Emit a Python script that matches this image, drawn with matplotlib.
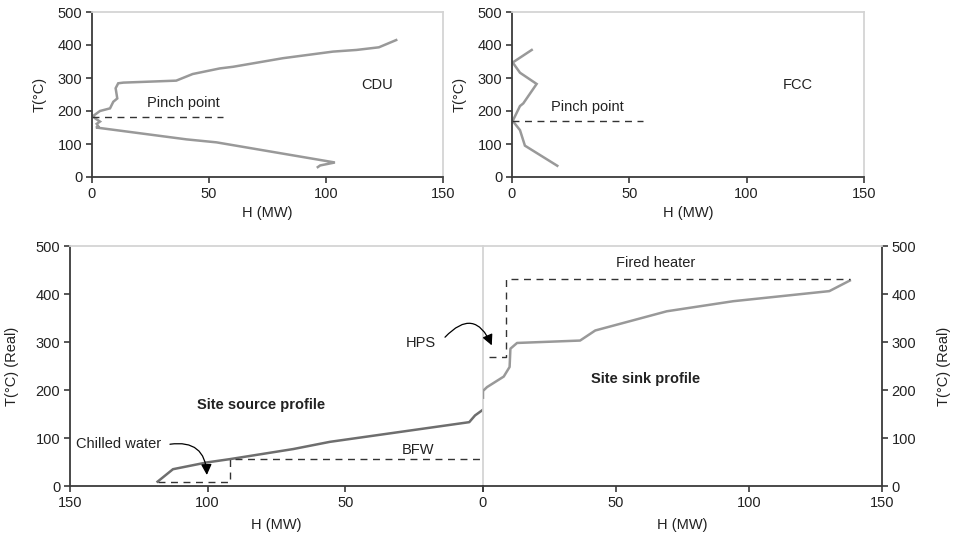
import matplotlib
matplotlib.use("Agg")
import matplotlib.pyplot as plt

plt.rcParams["font.family"] = ["Liberation Sans", "DejaVu Sans"]
plt.rcParams["font.size"] = 10.5

# Refinery composite curves, H in MW, T in deg C
CDU_H = [130, 122.6, 113, 103, 81.6, 60.3, 54.6, 43, 36, 13.4, 11.2, 10.1, 10.8,
         9.1, 7.7, 3.4, 0.5, 1.3, 3.4, 2.0, 2.7, 1.7, 40.4, 53.2, 103.8, 97.5, 96.5]
CDU_T = [415, 393, 385, 380, 360, 334, 329, 312, 292, 286, 284, 269, 238,
         228, 208, 200, 185, 178, 168, 161, 153, 150, 114, 105, 44, 35, 30]
FCC_H = [8.4, 0.3, 3.4, 10.5, 4.8, 3.4, 0.3, 3.4, 5.5, 19.3]
FCC_T = [385, 347, 316, 282, 223, 215, 170, 142, 95, 34]

CDU_PINCH = 183
FCC_PINCH = 170

# Total site profiles
SRC_H = [118.2, 112.6, 100.4, 91.9, 68.9, 55.6, 5, 2.9, 0]
SRC_T = [9, 35, 49, 56, 77, 92, 133, 147, 159]
SNK_H = [0, 0, 1.5, 7.8, 10, 10.3, 12.8, 36.5, 42.2, 69.1, 94.1, 130.2, 137.9]
SNK_T = [184, 198, 206, 228, 248, 286, 298, 303, 324, 364, 385, 406, 428]

# Utility levels (dashed)
CW_H = [118, 91.9, 91.9, 0]
CW_T = [9, 9, 56, 56]
HPS_H = [2.1, 8.8, 8.8, 137.9]
HPS_T = [269, 269, 432, 432]

LINE = "#999999"
DARK = "#6e6e6e"
SPINE = "#3a3a3a"
LIGHT = "#d4d4d4"
TXT = "#222222"

fig = plt.figure(figsize=(9.54, 5.42), dpi=100)
W, H = 954, 542


def add_axes(x0, x1, ytop, ybot):
    return fig.add_axes([x0 / W, 1 - ybot / H, (x1 - x0) / W, (ybot - ytop) / H])


def style(ax, right=False):
    for s in ax.spines.values():
        s.set_linewidth(1.3)
    ax.spines["top"].set_color(LIGHT)
    ax.spines["bottom"].set_color(SPINE)
    if right:
        ax.spines["left"].set_visible(False)
        ax.spines["right"].set_color(SPINE)
        ax.yaxis.tick_right()
        ax.yaxis.set_label_position("right")
    else:
        ax.spines["right"].set_color(LIGHT)
        ax.spines["left"].set_color(SPINE)
    ax.tick_params(direction="out", length=4, width=1.2, color=SPINE,
                   labelcolor=TXT, labelsize=10.5, pad=3)
    ax.set_ylim(0, 500)
    ax.set_yticks(range(0, 501, 100))
    ax.set_xticks([0, 50, 100, 150])


# ---- top panels: individual plants
axA = add_axes(92, 443, 12, 177)
axB = add_axes(512, 864, 12, 177)
for ax, h, t, pinch, name, px in [(axA, CDU_H, CDU_T, CDU_PINCH, "CDU", 39),
                                  (axB, FCC_H, FCC_T, FCC_PINCH, "FCC", 32)]:
    style(ax)
    ax.set_xlim(0, 150)
    ax.plot(h, t, color=LINE, lw=1.8, solid_joinstyle="miter")
    ax.plot([0, 56], [pinch, pinch], color="#333333", lw=1.0, ls=(0, (5, 4)))
    ax.text(px, pinch + 42, "Pinch point", ha="center", va="center", color=TXT)
    ax.text(121.7, 279, name, ha="center", va="center", color=TXT)
    ax.set_xlabel("H (MW)", color=TXT, labelpad=4)
    ax.set_ylabel("T(°C)", color=TXT)
    ax.yaxis.set_label_coords(-0.128, 0.5)

# ---- bottom: site source / sink profiles
axL = add_axes(70, 483, 246, 486)
axR = add_axes(483, 882, 246, 486)
style(axL)
style(axR, right=True)
axR.patch.set_alpha(0)
axL.set_xlim(150, 0)
axR.set_xlim(0, 150)
axR.set_xticklabels(["", "50", "100", "150"])

axL.plot(SRC_H, SRC_T, color=DARK, lw=1.8)
axL.plot(CW_H, CW_T, color="#333333", lw=1.0, ls=(0, (5, 4)))
axR.plot(SNK_H, SNK_T, color=LINE, lw=1.8)
axR.plot(HPS_H, HPS_T, color="#333333", lw=1.0, ls=(0, (5, 4)))

axL.text(80.6, 169, "Site source profile", ha="center", va="center",
         fontweight="bold", color=TXT)
axR.text(61, 223, "Site sink profile", ha="center", va="center",
         fontweight="bold", color=TXT)
axL.text(132.5, 88, "Chilled water", ha="center", va="center", color=TXT)
axL.text(23.5, 76, "BFW", ha="center", va="center", color=TXT)
axL.text(22.5, 298, "HPS", ha="center", va="center", color=TXT)
axR.text(65, 465, "Fired heater", ha="center", va="center", color=TXT)

arrow = dict(arrowstyle="-|>", color="black", lw=0.9, mutation_scale=16,
             shrinkA=0, shrinkB=0)
axL.annotate("", xy=(100.3, 23), xytext=(113.7, 87),
             arrowprops=dict(arrow, connectionstyle="arc3,rad=-0.55"))
axR.annotate("", xy=(3.3, 293), xytext=(13.8, 310), textcoords=axL.transData,
             arrowprops=dict(arrow, connectionstyle="arc3,rad=-0.75"),
             annotation_clip=False)

for ax in (axL, axR):
    ax.set_xlabel("H (MW)", color=TXT, labelpad=6)
    ax.set_ylabel("T(°C) (Real)", color=TXT)
axL.yaxis.set_label_coords(-0.123, 0.5)
axR.yaxis.set_label_coords(1.137, 0.5)

fig.savefig("out.png", dpi=100)
